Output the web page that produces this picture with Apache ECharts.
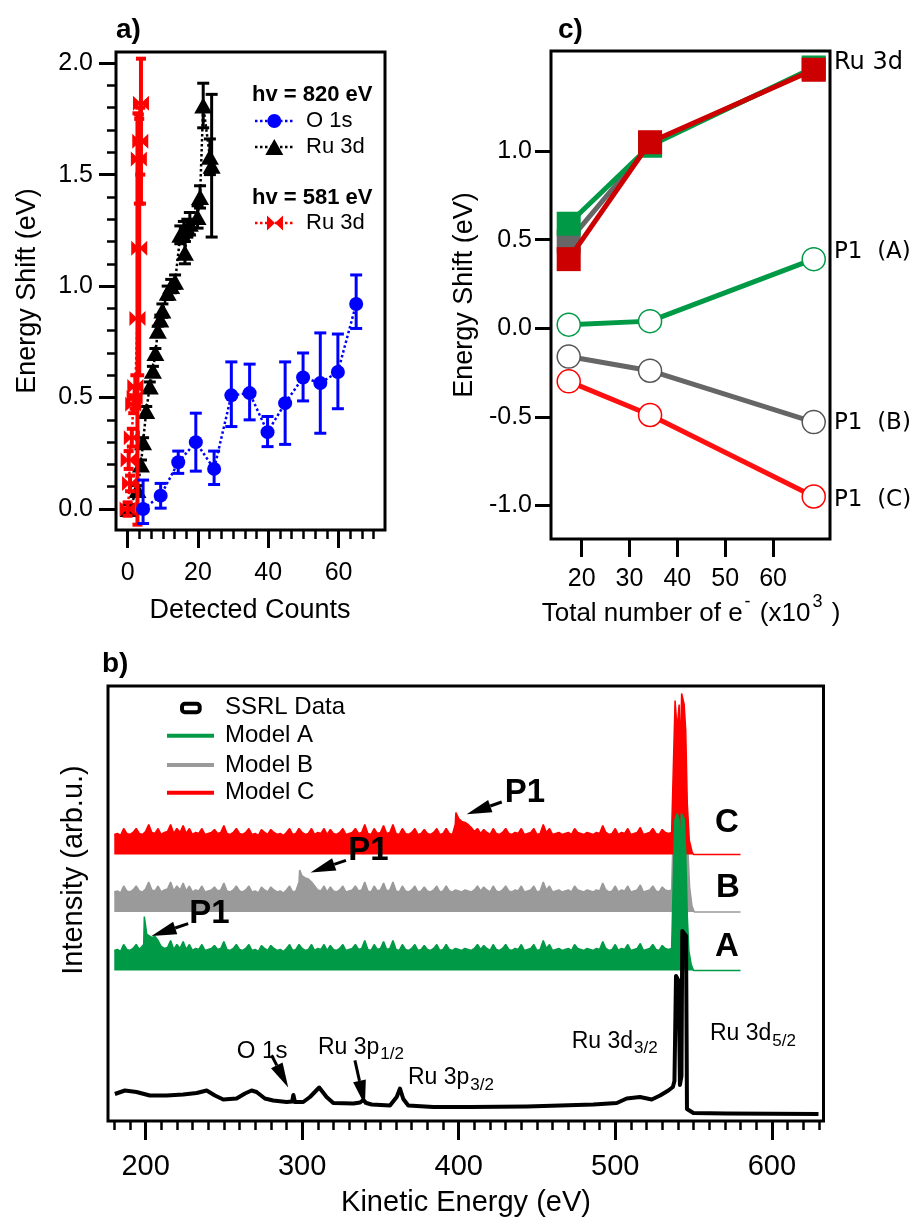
<!DOCTYPE html>
<html><head><meta charset="utf-8">
<script src="https://cdn.jsdelivr.net/npm/echarts@6/dist/echarts.min.js"></script>
<style>html,body{margin:0;padding:0;background:#fff}#c{width:914px;height:1223px}</style>
</head><body><div id="c"></div>
<script>
// ---------------- Panel a data ----------------
const o1sX    = [4.4, 9.4, 14.4, 19.4, 24.6, 29.5, 34.7, 39.8, 44.8, 49.9, 54.8, 59.8, 65.0];
const o1sY    = [0.00, 0.06, 0.21, 0.30, 0.18, 0.51, 0.52, 0.345, 0.475, 0.59, 0.565, 0.615, 0.92];
const o1sLow  = [-0.065, 0.004, 0.16, 0.17, 0.11, 0.37, 0.40, 0.28, 0.29, 0.485, 0.34, 0.45, 0.81];
const o1sHigh = [0.13, 0.115, 0.26, 0.43, 0.26, 0.66, 0.65, 0.415, 0.66, 0.70, 0.79, 0.785, 1.05];

const ru820X   = [0.3, 2.8, 3.8, 4.4, 5.3, 6.3, 7.2, 7.9, 8.6, 9.3, 9.9, 11.4, 12.4, 13.5, 15.0, 16.0, 16.3, 17.0, 17.7, 19.9, 20.6, 21.5, 23.4, 23.9];
const ru820Y   = [0.00, 0.085, 0.20, 0.30, 0.44, 0.55, 0.62, 0.70, 0.80, 0.85, 0.89, 0.97, 1.00, 1.02, 1.23, 1.25, 1.15, 1.26, 1.28, 1.31, 1.40, 1.81, 1.58, 1.54];
const ru820Err = [0.02, 0.02, 0.02, 0.02, 0.02, 0.02, 0.02, 0.02, 0.02, 0.02, 0.03, 0.03, 0.03, 0.03, 0.04, 0.04, 0.05, 0.04, 0.05, 0.05, 0.05, 0.10, 0.08, 0.32];

const ru581X    = [0.0, 0.7, 0.3, 1.2, 1.6, 2.0, 2.2, 2.8, 3.3, 3.2, 3.6, 3.8];
const ru581Y    = [0.00, 0.115, 0.22, 0.32, 0.47, 0.50, 0.55, 0.855, 1.17, 1.57, 1.65, 1.82];
const ru581Low  = [-0.03, 0.08, 0.18, 0.28, 0.43, 0.45, 0.50, -0.07, 0.60, 1.37, 1.50, 1.37];
const ru581High = [0.03, 0.15, 0.26, 0.36, 0.51, 0.55, 0.60, 1.775, 1.75, 1.77, 1.80, 2.02];

const aXTicks = [0, 20, 40, 60];
const aYTicks = [0, 0.5, 1.0, 1.5, 2.0];

// ---------------- Panel c data ----------------
const cX   = [17.3, 34.3, 68.5];
const ruA  = [0.59, 1.03, 1.472];
const ruB  = [0.49, 1.04, 1.465];
const ruC  = [0.39, 1.05, 1.459];
const p1A  = [0.02, 0.04, 0.39];
const p1B  = [-0.16, -0.24, -0.53];
const p1C  = [-0.30, -0.49, -0.95];
const cXTicks = [20, 30, 40, 50, 60];
const cYTicks = [-1.0, -0.5, 0.0, 0.5, 1.0];

// ---------------- Panel b data ----------------
const bXTicks = [200, 300, 400, 500, 600];
const ssrl = [[180.4,27],[186.8,30.5],[194.2,29],[202.7,25.5],[213.4,25.5],[224,26.5],[232.6,28],[239,30.5],
  [244.3,25.5],[249.6,21.5],[258.1,22.5],[263.5,27.5],[267.7,30.5],[270.9,29],[276.2,22.5],[281.5,20.5],
  [290.1,19],[293.6,19.5],[294.4,26],[295.4,19],[300.7,19],[305,24],[310.9,33.5],[315.6,24],[319.9,18],
  [332.7,17.5],[337,18.5],[339,21],[341,18],[344.4,16.5],[356.1,15.5],[360.4,24],[362.5,32.5],[364.6,22],
  [367.8,15.5],[383.8,14],[407.2,14],[443.5,14.5],[486,16.5],[501,18],[507.3,22.5],[515.8,24],[523.3,21.5],
  [528.6,25.5],[533.9,30.5],[536.8,34],[537.8,40],[538.8,145],[540.5,140],[541.3,36],[542.3,45],[542.8,190],
  [545.2,185],[545.8,12],[549.9,8],[571.2,7.5],[629.8,7]];

// model noise (same pattern in the three models), read every 2 eV from 180 eV
const noiseStartEV = 180, noiseStepEV = 2;
const modelNoise = [
  20,21,19,26,21,20,22,26,21,20,
  23,30,22,21,26,20,22,23,30,21,
  26,22,29,21,26,20,22,21,26,20,
  21,22,25,21,22,29,21,20,22,26,
  21,20,22,26,20,21,19,25,22,20,
  25,22,20,21,19,22,26,20,21,26,
  22,20,21,26,20,22,21,26,20,25,
  21,20,22,26,20,21,22,26,21,22,
  30,21,20,26,21,22,29,21,22,30,
  21,20,26,21,20,22,26,20,21,25,
  21,20,22,26,20,21,26,21,20,22,
  21,20,22,21,20,22,26,21,25,22,
  20,26,21,20,22,26,21,20,22,21,
  26,20,21,22,26,20,21,30,22,26,
  20,21,22,20,21,22,20,26,22,21,
  20,22,21,20,22,21,29,22,20,21,
  26,20,22,21,26,20,21,22,27,20,
  21,22,26,21,20,25,22,21,22];
const modelBase = {A: 150.5, B: 209, C: 266.5};
const p1FeatA = [[197,22],[198.8,26],[199.2,54],[200.4,54],[200.8,36],[202,35],[204,33],[206,34],[208,30],[210,24]];
const p1FeatB = [[297,22],[298,30],[298.4,42],[299.4,42],[300,36],[302,34],[304,33],[306,30],[308,26]];
const p1FeatC = [[397,22],[397.8,30],[398.2,42],[399.2,42],[400,36],[402,33],[404,32],[406,30],[408,27],[410,23]];
const ruPeakA = [[537.2,24],[538,150],[539.5,157],[540.8,150],[541.4,112],[542.2,157],[544,152],[545,118],[546,55],[547,20],[548.5,6],[550,0],[580,0]];
const ruPeakB = [[537.2,24],[538,140],[540,148],[541.4,110],[542.2,152],[544,148],[545.2,110],[546.3,65],[547.5,25],[549,6],[550.5,0],[580,0]];
const ruPeakC = [[537.2,24],[538.2,154],[539.5,125],[540.8,150],[541.5,99],[542.4,161],[544,150],[545,124],[546,51],[547.3,14],[549,3],[550,0],[580,0]];
// annotation arrows [fromE, fromI, tipE, tipI]
const arrowsB = [[427.5,319,405.1,306.7],[328,260.7,305.4,248.4],[227.2,197.4,203.8,185],[280.5,65.7,291.1,33.4],[333.7,60.7,340.1,15.7]];

// ---------------- helpers ----------------
function zip(xs, ys){ return xs.map((x,i)=>[x, ys[i]]); }
function buildModel(base, feat, peak){
  const lo = feat[0][0], hi = feat[feat.length-1][0];
  const pts = [];
  modelNoise.forEach((v,i)=>{ const e = noiseStartEV + i*noiseStepEV; if (e < lo || e > hi) pts.push([e, base+v]); });
  feat.forEach(p=>pts.push([p[0], base+p[1]]));
  peak.forEach(p=>pts.push([p[0], base+p[1]]));
  pts.sort((a,b)=>a[0]-b[0]);
  return pts;
}
function errRender(color, lw, cap){
  return function(params, api){
    const x = api.value(0), lo = api.value(1), hi = api.value(2);
    const a = api.coord([x, lo]), b = api.coord([x, hi]);
    const st = {stroke: color, lineWidth: lw};
    return {type:'group', children:[
      {type:'line', shape:{x1:a[0],y1:a[1],x2:b[0],y2:b[1]}, style:st},
      {type:'line', shape:{x1:a[0]-cap,y1:a[1],x2:a[0]+cap,y2:a[1]}, style:st},
      {type:'line', shape:{x1:b[0]-cap,y1:b[1],x2:b[0]+cap,y2:b[1]}, style:st}
    ]};
  };
}
function arrowRender(params, api){
  const p1 = api.coord([api.value(0), api.value(1)]);
  const p2 = api.coord([api.value(2), api.value(3)]);
  const dx = p2[0]-p1[0], dy = p2[1]-p1[1], L = Math.sqrt(dx*dx+dy*dy);
  const ux = dx/L, uy = dy/L, hl = 25, hw = 6.5;
  const bx = p2[0]-ux*hl, by = p2[1]-uy*hl;
  return {type:'group', children:[
    {type:'line', shape:{x1:p1[0],y1:p1[1],x2:bx,y2:by}, style:{stroke:'#000', lineWidth:3}},
    {type:'polygon', shape:{points:[[p2[0],p2[1]],[bx-uy*hw,by+ux*hw],[bx+uy*hw,by-ux*hw]]}, style:{fill:'#000'}}
  ]};
}
function minorTicks(lo, hi, step, majorStep){
  const out = [];
  for (let k = Math.ceil(lo/step - 1e-9); k*step <= hi + 1e-9; k++){
    const v = Math.round(k*step*1000)/1000;
    const r = v/majorStep;
    if (Math.abs(r - Math.round(r)) > 1e-6) out.push(v);
  }
  return out;
}
const FONT = 'Liberation Sans';
function T(x, y, text, size, opt){
  opt = opt || {};
  const st = {text:text, fontSize:size, fontFamily: opt.family || FONT, fontWeight: opt.bold ? 'bold' : 'normal',
    fill:'#000', align: opt.align || 'left', verticalAlign:'middle'};
  if (opt.rich) st.rich = opt.rich;
  return {type:'text', x:x, y:y, rotation: opt.rot || 0, z:100, style:st};
}
const subRich = {m:{fontSize:23, fontFamily:FONT}, s:{fontSize:17, fontFamily:FONT, padding:[14,0,0,1]}};
const bowtie = 'path://M0,0 L10,7 L20,0 L20,14 L10,7 L0,14 Z';

function tickAxis(common){ return Object.assign({type:'value', axisLine:{show:false, onZero:false}, splitLine:{show:false}}, common); }
const lbl = (size, margin, fmt) => ({fontSize:size, margin:margin, color:'#000', fontFamily:FONT, formatter: fmt});
const fmt1 = v => Number(v).toFixed(1);

const option = {
  animation:false,
  backgroundColor:'#fff',
  textStyle:{fontFamily:FONT},
  grid:[
    {left:116, top:52, width:269, height:478, show:true, borderColor:'#000', borderWidth:3, backgroundColor:'rgba(0,0,0,0)'},
    {left:551, top:51, width:279, height:488, show:true, borderColor:'#000', borderWidth:3, backgroundColor:'rgba(0,0,0,0)'},
    {left:108, top:686, width:715.5, height:435, show:true, borderColor:'#000', borderWidth:3, backgroundColor:'rgba(0,0,0,0)'}
  ],
  xAxis:[
    tickAxis({gridIndex:0, position:'bottom', min:-3.3, max:73.2,
      axisTick:{length:18, lineStyle:{color:'#000', width:3}, customValues:aXTicks},
      axisLabel:Object.assign(lbl(25, 31), {customValues:aXTicks})}),
    tickAxis({gridIndex:0, position:'bottom', offset:0, min:-3.3, max:73.2,
      axisTick:{length:9, lineStyle:{color:'#000', width:2.5}, customValues:minorTicks(0, 70, 20/6, 20)},
      axisLabel:{show:false}}),
    tickAxis({gridIndex:1, position:'bottom', min:13.6, max:71.9,
      axisTick:{length:18, lineStyle:{color:'#000', width:3}, customValues:cXTicks},
      axisLabel:Object.assign(lbl(25, 28), {customValues:cXTicks})}),
    tickAxis({gridIndex:2, position:'bottom', min:176, max:633,
      axisTick:{length:19, lineStyle:{color:'#000', width:3}, customValues:bXTicks},
      axisLabel:Object.assign(lbl(29, 31), {customValues:bXTicks})}),
    tickAxis({gridIndex:2, position:'bottom', offset:0, min:176, max:633,
      axisTick:{length:9, lineStyle:{color:'#000', width:2.5}, customValues:minorTicks(180, 630, 10, 100)},
      axisLabel:{show:false}})
  ],
  yAxis:[
    tickAxis({gridIndex:0, position:'left', min:-0.094, max:2.05,
      axisTick:{length:17, lineStyle:{color:'#000', width:3}, customValues:aYTicks},
      axisLabel:Object.assign(lbl(25, 23, fmt1), {customValues:aYTicks})}),
    tickAxis({gridIndex:0, position:'left', offset:0, min:-0.094, max:2.05,
      axisTick:{length:9, lineStyle:{color:'#000', width:2.5}, customValues:minorTicks(0, 2.0, 0.1, 0.5)},
      axisLabel:{show:false}}),
    tickAxis({gridIndex:1, position:'left', min:-1.19, max:1.565,
      axisTick:{length:16, lineStyle:{color:'#000', width:3}, customValues:cYTicks},
      axisLabel:Object.assign(lbl(25, 19, fmt1), {customValues:cYTicks})}),
    tickAxis({gridIndex:2, position:'left', min:0, max:435, axisTick:{show:false}, axisLabel:{show:false}})
  ],
  series:[
    // ---- panel a ----
    {type:'line', name:'Ru 3d (820 eV)', xAxisIndex:0, yAxisIndex:0, z:2, data:zip(ru820X, ru820Y),
      symbol:'triangle', symbolSize:[18,16], itemStyle:{color:'#000'},
      lineStyle:{color:'#000', width:2.5, type:[2.5,2.5]}},
    {type:'custom', xAxisIndex:0, yAxisIndex:0, z:2, renderItem:errRender('#000', 3, 6),
      encode:{x:0, y:[1,2]}, data:ru820X.map((x,i)=>[x, ru820Y[i]-ru820Err[i], ru820Y[i]+ru820Err[i]])},
    {type:'line', name:'Ru 3d (581 eV)', xAxisIndex:0, yAxisIndex:0, z:3, data:zip(ru581X, ru581Y),
      symbol:bowtie, symbolSize:[16,15], itemStyle:{color:'#ff0000'},
      lineStyle:{color:'#ff0000', width:2.5, type:[2.5,2.5]}},
    {type:'custom', xAxisIndex:0, yAxisIndex:0, z:3, renderItem:errRender('#ff0000', 4, 5),
      encode:{x:0, y:[1,2]}, data:ru581X.map((x,i)=>[x, ru581Low[i], ru581High[i]])},
    {type:'line', name:'O 1s', xAxisIndex:0, yAxisIndex:0, z:4, data:zip(o1sX, o1sY),
      symbol:'circle', symbolSize:14, itemStyle:{color:'#0000ff'},
      lineStyle:{color:'#0000ff', width:2.5, type:[2.5,2.5]}},
    {type:'custom', xAxisIndex:0, yAxisIndex:0, z:4, renderItem:errRender('#0000ff', 3, 6),
      encode:{x:0, y:[1,2]}, data:o1sX.map((x,i)=>[x, o1sLow[i], o1sHigh[i]])},
    // ---- panel c ----
    {type:'line', xAxisIndex:2, yAxisIndex:2, z:2, data:zip(cX, ruB), symbol:'rect', symbolSize:24,
      itemStyle:{color:'#666666'}, lineStyle:{color:'#666666', width:5}},
    {type:'line', xAxisIndex:2, yAxisIndex:2, z:3, data:zip(cX, ruA), symbol:'rect', symbolSize:24,
      itemStyle:{color:'#009a46'}, lineStyle:{color:'#009a46', width:5}},
    {type:'line', xAxisIndex:2, yAxisIndex:2, z:4, data:zip(cX, ruC), symbol:'rect', symbolSize:24,
      itemStyle:{color:'#cc0000'}, lineStyle:{color:'#cc0000', width:5}},
    {type:'line', xAxisIndex:2, yAxisIndex:2, z:3, data:zip(cX, p1A), symbol:'circle', symbolSize:23,
      itemStyle:{color:'#fff', borderColor:'#009a46', borderWidth:1.5}, lineStyle:{color:'#009a46', width:5}},
    {type:'line', xAxisIndex:2, yAxisIndex:2, z:3, data:zip(cX, p1B), symbol:'circle', symbolSize:23,
      itemStyle:{color:'#fff', borderColor:'#555555', borderWidth:1.5}, lineStyle:{color:'#666666', width:5}},
    {type:'line', xAxisIndex:2, yAxisIndex:2, z:3, data:zip(cX, p1C), symbol:'circle', symbolSize:23,
      itemStyle:{color:'#fff', borderColor:'#ff0000', borderWidth:1.5}, lineStyle:{color:'#ff1010', width:5}},
    // ---- panel b ----
    {type:'line', name:'Model B', xAxisIndex:3, yAxisIndex:3, z:2, showSymbol:false, data:buildModel(modelBase.B, p1FeatB, ruPeakB),
      lineStyle:{color:'#9a9a9a', width:1.5}, areaStyle:{color:'#9a9a9a', opacity:1, origin:modelBase.B}},
    {type:'line', name:'Model C', xAxisIndex:3, yAxisIndex:3, z:3, showSymbol:false, data:buildModel(modelBase.C, p1FeatC, ruPeakC),
      lineStyle:{color:'#ff0000', width:1.5}, areaStyle:{color:'#ff0000', opacity:1, origin:modelBase.C}},
    {type:'line', name:'Model A', xAxisIndex:3, yAxisIndex:3, z:4, showSymbol:false, data:buildModel(modelBase.A, p1FeatA, ruPeakA),
      lineStyle:{color:'#009a46', width:1.5}, areaStyle:{color:'#009a46', opacity:1, origin:modelBase.A}},
    {type:'line', name:'SSRL Data', xAxisIndex:3, yAxisIndex:3, z:5, showSymbol:false, data:ssrl,
      lineStyle:{color:'#000', width:4, join:'round'}},
    {type:'custom', xAxisIndex:3, yAxisIndex:3, z:6, renderItem:arrowRender, encode:{x:[0,2], y:[1,3]}, data:arrowsB}
  ],
  graphic:[
    // panel labels
    T(116, 30, 'a)', 28, {bold:true}),
    T(558, 30, 'c)', 28, {bold:true}),
    T(102, 664, 'b)', 28, {bold:true}),
    // axis titles
    T(28, 291, 'Energy Shift (eV)', 27, {align:'center', rot:Math.PI/2}),
    T(250, 611, 'Detected Counts', 27, {align:'center'}),
    T(465, 295, 'Energy Shift (eV)', 27, {align:'center', rot:Math.PI/2}),
    T(691, 614, '{m|Total number of e}{s|-}{m| (x10}{s|3}{m| )}', 26, {align:'center',
      rich:{m:{fontSize:26, fontFamily:FONT}, s:{fontSize:18, fontFamily:FONT, padding:[0,2,24,2]}}}),
    T(74, 870, 'Intensity (arb.u.)', 29, {align:'center', rot:Math.PI/2}),
    T(466, 1203, 'Kinetic Energy (eV)', 29, {align:'center'}),
    // panel a legend
    T(252, 95, 'hv = 820 eV', 22, {bold:true}),
    {type:'line', shape:{x1:255,y1:121,x2:293,y2:121}, style:{stroke:'#0000ff', lineWidth:2.5, lineDash:[2.5,2.5]}, z:100},
    {type:'circle', shape:{cx:274.3, cy:121, r:7}, style:{fill:'#0000ff'}, z:101},
    T(306, 121, 'O 1s', 22),
    {type:'line', shape:{x1:255,y1:147,x2:293,y2:147}, style:{stroke:'#000', lineWidth:2.5, lineDash:[2.5,2.5]}, z:100},
    {type:'polygon', shape:{points:[[274.3,139],[283.3,155],[265.3,155]]}, style:{fill:'#000'}, z:101},
    T(306, 147, 'Ru 3d', 22),
    T(252, 198, 'hv = 581 eV', 22, {bold:true}),
    {type:'line', shape:{x1:255,y1:223,x2:293,y2:223}, style:{stroke:'#ff0000', lineWidth:2.5, lineDash:[2.5,2.5]}, z:100},
    {type:'polygon', shape:{points:[[267,215.5],[275,223],[283,215.5],[283,230.5],[275,223],[267,230.5]]}, style:{fill:'#ff0000'}, z:101},
    T(306, 223, 'Ru 3d', 22),
    // panel c end labels
    T(834, 63, 'Ru 3d', 24, {family:'DejaVu Sans'}),
    T(834, 252, 'P1  (A)', 23, {family:'DejaVu Sans'}),
    T(834, 423, 'P1  (B)', 23, {family:'DejaVu Sans'}),
    T(834, 500, 'P1  (C)', 23, {family:'DejaVu Sans'}),
    // panel b legend
    {type:'rect', shape:{x:182, y:703.7, width:17.7, height:8.6, r:3}, style:{fill:'#fff', stroke:'#000', lineWidth:4}, z:100},
    T(225, 707, 'SSRL Data', 24),
    {type:'line', shape:{x1:167,y1:735.7,x2:214,y2:735.7}, style:{stroke:'#009a46', lineWidth:4}, z:100},
    T(225, 735.7, 'Model A', 24),
    {type:'line', shape:{x1:167,y1:765,x2:214,y2:765}, style:{stroke:'#9a9a9a', lineWidth:4}, z:100},
    T(225, 765, 'Model B', 24),
    {type:'line', shape:{x1:167,y1:792.7,x2:214,y2:792.7}, style:{stroke:'#ff0000', lineWidth:4}, z:100},
    T(225, 792.7, 'Model C', 24),
    // panel b annotations
    T(727, 823, 'C', 33, {bold:true, align:'center'}),
    T(728, 888, 'B', 33, {bold:true, align:'center'}),
    T(727, 947, 'A', 33, {bold:true, align:'center'}),
    T(525, 793, 'P1', 33, {bold:true, align:'center'}),
    T(368.5, 851, 'P1', 33, {bold:true, align:'center'}),
    T(209.5, 914, 'P1', 33, {bold:true, align:'center'}),
    T(236.7, 1051, 'O 1s', 24),
    T(318, 1047.5, '{m|Ru 3p}{s|1/2}', 23, {rich:subRich}),
    T(408, 1078, '{m|Ru 3p}{s|3/2}', 23, {rich:subRich}),
    T(571.7, 1041.7, '{m|Ru 3d}{s|3/2}', 23, {rich:subRich}),
    T(710, 1034, '{m|Ru 3d}{s|5/2}', 23, {rich:subRich})
  ]
};
const chart = echarts.init(document.getElementById('c'));
chart.setOption(option);
</script></body></html>
